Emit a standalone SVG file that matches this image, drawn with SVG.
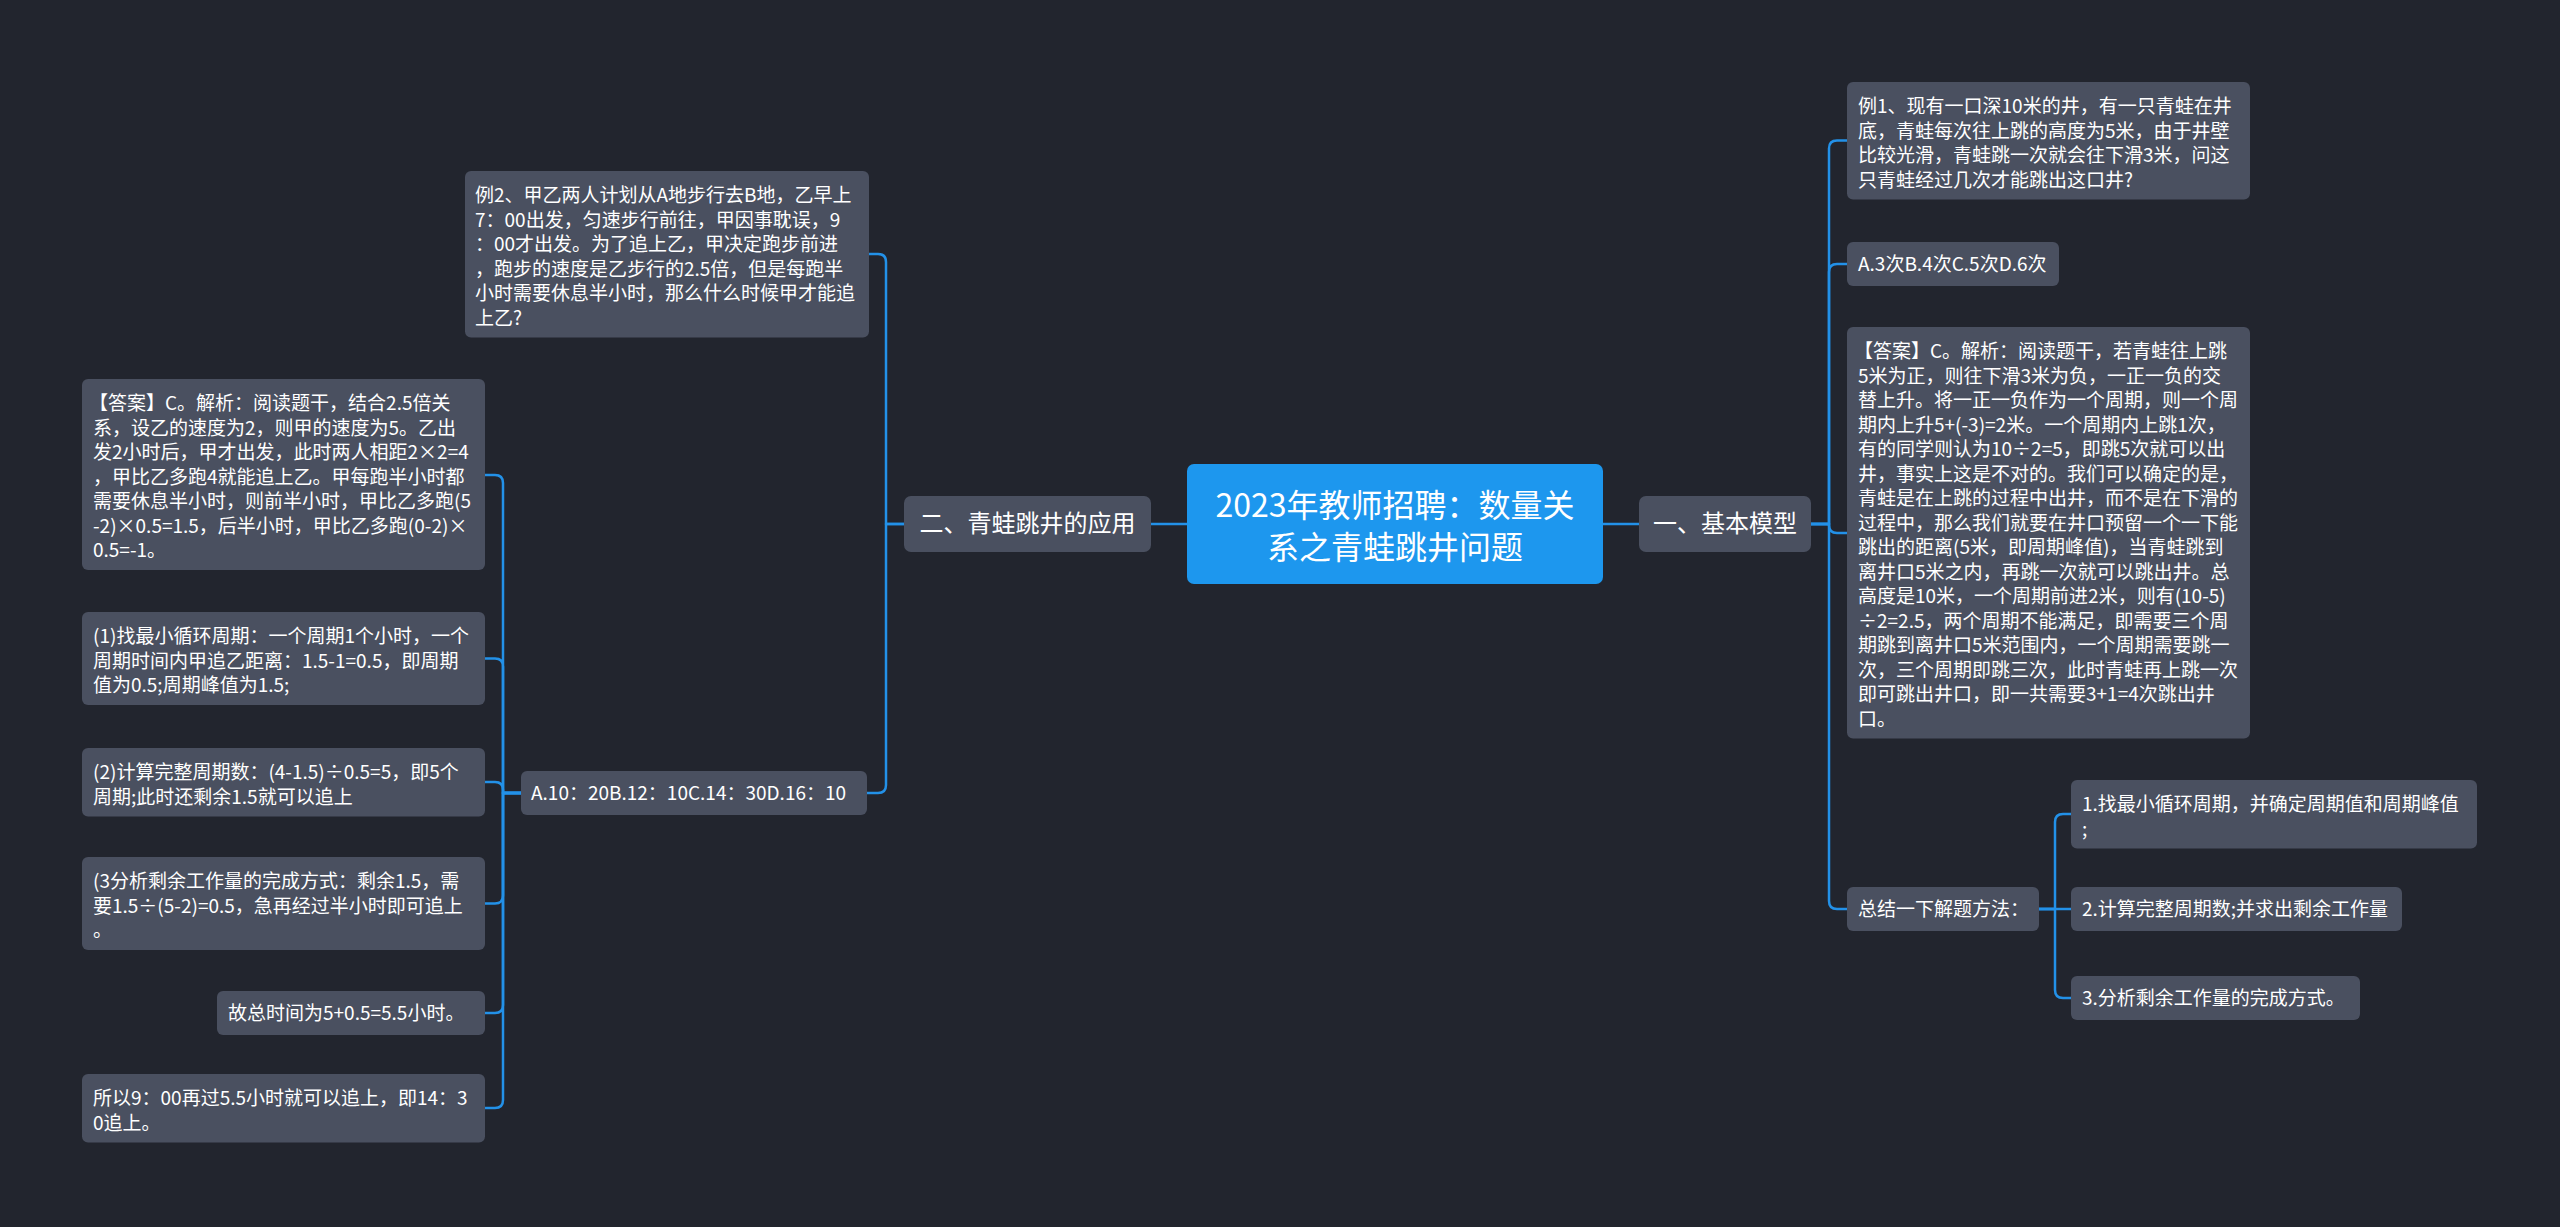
<svg xmlns="http://www.w3.org/2000/svg" width="2560" height="1227" viewBox="0 0 2560 1227">
<style>
.bg{fill:#22252e}
.n{fill:#4a5060}
.c{fill:#1d97ee}
.t{font-family:"Noto Sans CJK SC","Noto Sans",sans-serif;font-size:19px;fill:#ffffff}
.t1{font-family:"Noto Sans CJK SC","Noto Sans",sans-serif;font-size:24px;fill:#ffffff;text-anchor:middle}
.t0{font-family:"Noto Sans CJK SC","Noto Sans",sans-serif;font-size:32px;fill:#ffffff;text-anchor:middle}
.l{fill:none;stroke:#2391e8;stroke-width:2.5;stroke-linecap:round;stroke-linejoin:round}
</style>
<rect class="bg" x="0" y="0" width="2560" height="1227"/>
<g id="connectors">
<path class="l" d="M1187 524 H1151"/>
<path class="l" d="M1603 524 H1639"/>
<path class="l" d="M904 524 H886 V262 Q886 254 878 254 H869"/>
<path class="l" d="M904 524 H886 V785 Q886 793 878 793 H867"/>
<path class="l" d="M521 793 H503 V483 Q503 475 495 475 H485"/>
<path class="l" d="M521 793 H503 V666.5 Q503 658.5 495 658.5 H485"/>
<path class="l" d="M521 793 H503 V790 Q503 782 495 782 H485"/>
<path class="l" d="M521 793 H503 V895.5 Q503 903.5 495 903.5 H485"/>
<path class="l" d="M521 793 H503 V1005 Q503 1013 495 1013 H485"/>
<path class="l" d="M521 793 H503 V1100 Q503 1108 495 1108 H485"/>
<path class="l" d="M1811 524 H1829 V148.5 Q1829 140.5 1837 140.5 H1847"/>
<path class="l" d="M1811 524 H1829 V272 Q1829 264 1837 264 H1847"/>
<path class="l" d="M1811 524 H1829 V525 Q1829 533 1837 533 H1847"/>
<path class="l" d="M1811 524 H1829 V901 Q1829 909 1837 909 H1847"/>
<path class="l" d="M2039 909 H2055 V822 Q2055 814 2063 814 H2071"/>
<path class="l" d="M2039 909 H2071"/>
<path class="l" d="M2039 909 H2055 V990 Q2055 998 2063 998 H2071"/>
</g>
<g id="root">
<rect class="c" x="1187" y="464" width="416" height="120" rx="7"/>
<text class="t0" x="1395" y="517">2023年教师招聘：数量关</text>
<text class="t0" x="1395" y="559">系之青蛙跳井问题</text>
</g>
<g id="branch2">
<rect class="n" x="904" y="496" width="247" height="56" rx="7"/>
<text class="t1" x="1027.5" y="532">二、青蛙跳井的应用</text>
</g>
<g id="branch1">
<rect class="n" x="1639" y="496" width="172" height="56" rx="7"/>
<text class="t1" x="1725" y="532">一、基本模型</text>
</g>
<g id="ex2">
<rect class="n" x="465" y="171" width="404" height="166.5" rx="6"/>
<text class="t" x="475" y="202"><tspan x="475">例2、甲乙两人计划从A地步行去B地，乙早上</tspan><tspan x="475" dy="24.5">7：00出发，匀速步行前往，甲因事耽误，9</tspan><tspan x="475" dy="24.5">：00才出发。为了追上乙，甲决定跑步前进</tspan><tspan x="475" dy="24.5">，跑步的速度是乙步行的2.5倍，但是每跑半</tspan><tspan x="475" dy="24.5">小时需要休息半小时，那么什么时候甲才能追</tspan><tspan x="475" dy="24.5">上乙?</tspan></text>
</g>
<g id="opts2">
<rect class="n" x="521" y="771" width="346" height="44" rx="6"/>
<text class="t" x="531" y="800">A.10：20B.12：10C.14：30D.16：10</text>
</g>
<g id="ans2">
<rect class="n" x="82" y="379" width="403" height="191" rx="6"/>
<text class="t" x="93" y="410"><tspan x="89">【答案】C。解析：阅读题干，结合2.5倍关</tspan><tspan x="93" dy="24.5">系，设乙的速度为2，则甲的速度为5。乙出</tspan><tspan x="93" dy="24.5">发2小时后，甲才出发，此时两人相距2×2=4</tspan><tspan x="93" dy="24.5">，甲比乙多跑4就能追上乙。甲每跑半小时都</tspan><tspan x="93" dy="24.5">需要休息半小时，则前半小时，甲比乙多跑(5</tspan><tspan x="93" dy="24.5">-2)×0.5=1.5，后半小时，甲比乙多跑(0-2)×</tspan><tspan x="93" dy="24.5">0.5=-1。</tspan></text>
</g>
<g id="step1">
<rect class="n" x="82" y="612" width="403" height="93" rx="6"/>
<text class="t" x="93" y="643"><tspan x="93">(1)找最小循环周期：一个周期1个小时，一个</tspan><tspan x="93" dy="24.5">周期时间内甲追乙距离：1.5-1=0.5，即周期</tspan><tspan x="93" dy="24.5">值为0.5;周期峰值为1.5;</tspan></text>
</g>
<g id="step2">
<rect class="n" x="82" y="748" width="403" height="68.5" rx="6"/>
<text class="t" x="93" y="779"><tspan x="93">(2)计算完整周期数：(4-1.5)÷0.5=5，即5个</tspan><tspan x="93" dy="24.5">周期;此时还剩余1.5就可以追上</tspan></text>
</g>
<g id="step3">
<rect class="n" x="82" y="857" width="403" height="93" rx="6"/>
<text class="t" x="93" y="888"><tspan x="93">(3分析剩余工作量的完成方式：剩余1.5，需</tspan><tspan x="93" dy="24.5">要1.5÷(5-2)=0.5，急再经过半小时即可追上</tspan><tspan x="93" dy="24.5">。</tspan></text>
</g>
<g id="total">
<rect class="n" x="217" y="991" width="268" height="44" rx="6"/>
<text class="t" x="228" y="1020">故总时间为5+0.5=5.5小时。</text>
</g>
<g id="result">
<rect class="n" x="82" y="1074" width="403" height="68.5" rx="6"/>
<text class="t" x="93" y="1105"><tspan x="93">所以9：00再过5.5小时就可以追上，即14：3</tspan><tspan x="93" dy="24.5">0追上。</tspan></text>
</g>
<g id="ex1">
<rect class="n" x="1847" y="82" width="403" height="117.5" rx="6"/>
<text class="t" x="1858" y="113"><tspan x="1858">例1、现有一口深10米的井，有一只青蛙在井</tspan><tspan x="1858" dy="24.5">底，青蛙每次往上跳的高度为5米，由于井壁</tspan><tspan x="1858" dy="24.5">比较光滑，青蛙跳一次就会往下滑3米，问这</tspan><tspan x="1858" dy="24.5">只青蛙经过几次才能跳出这口井?</tspan></text>
</g>
<g id="opts1">
<rect class="n" x="1847" y="242" width="212" height="44" rx="6"/>
<text class="t" x="1858" y="271">A.3次B.4次C.5次D.6次</text>
</g>
<g id="ans1">
<rect class="n" x="1847" y="327" width="403" height="411.5" rx="6"/>
<text class="t" x="1858" y="358"><tspan x="1854">【答案】C。解析：阅读题干，若青蛙往上跳</tspan><tspan x="1858" dy="24.5">5米为正，则往下滑3米为负，一正一负的交</tspan><tspan x="1858" dy="24.5">替上升。将一正一负作为一个周期，则一个周</tspan><tspan x="1858" dy="24.5">期内上升5+(-3)=2米。一个周期内上跳1次，</tspan><tspan x="1858" dy="24.5">有的同学则认为10÷2=5，即跳5次就可以出</tspan><tspan x="1858" dy="24.5">井，事实上这是不对的。我们可以确定的是，</tspan><tspan x="1858" dy="24.5">青蛙是在上跳的过程中出井，而不是在下滑的</tspan><tspan x="1858" dy="24.5">过程中，那么我们就要在井口预留一个一下能</tspan><tspan x="1858" dy="24.5">跳出的距离(5米，即周期峰值)，当青蛙跳到</tspan><tspan x="1858" dy="24.5">离井口5米之内，再跳一次就可以跳出井。总</tspan><tspan x="1858" dy="24.5">高度是10米，一个周期前进2米，则有(10-5)</tspan><tspan x="1858" dy="24.5">÷2=2.5，两个周期不能满足，即需要三个周</tspan><tspan x="1858" dy="24.5">期跳到离井口5米范围内，一个周期需要跳一</tspan><tspan x="1858" dy="24.5">次，三个周期即跳三次，此时青蛙再上跳一次</tspan><tspan x="1858" dy="24.5">即可跳出井口，即一共需要3+1=4次跳出井</tspan><tspan x="1858" dy="24.5">口。</tspan></text>
</g>
<g id="summary">
<rect class="n" x="1847" y="887" width="192" height="44" rx="6"/>
<text class="t" x="1858" y="916">总结一下解题方法：</text>
</g>
<g id="m1">
<rect class="n" x="2071" y="780" width="406" height="68.5" rx="6"/>
<text class="t" x="2082" y="811"><tspan x="2082">1.找最小循环周期，并确定周期值和周期峰值</tspan><tspan x="2082" dy="24.5">;</tspan></text>
</g>
<g id="m2">
<rect class="n" x="2071" y="887" width="331" height="44" rx="6"/>
<text class="t" x="2082" y="916">2.计算完整周期数;并求出剩余工作量</text>
</g>
<g id="m3">
<rect class="n" x="2071" y="976" width="289" height="44" rx="6"/>
<text class="t" x="2082" y="1005">3.分析剩余工作量的完成方式。</text>
</g>
</svg>
